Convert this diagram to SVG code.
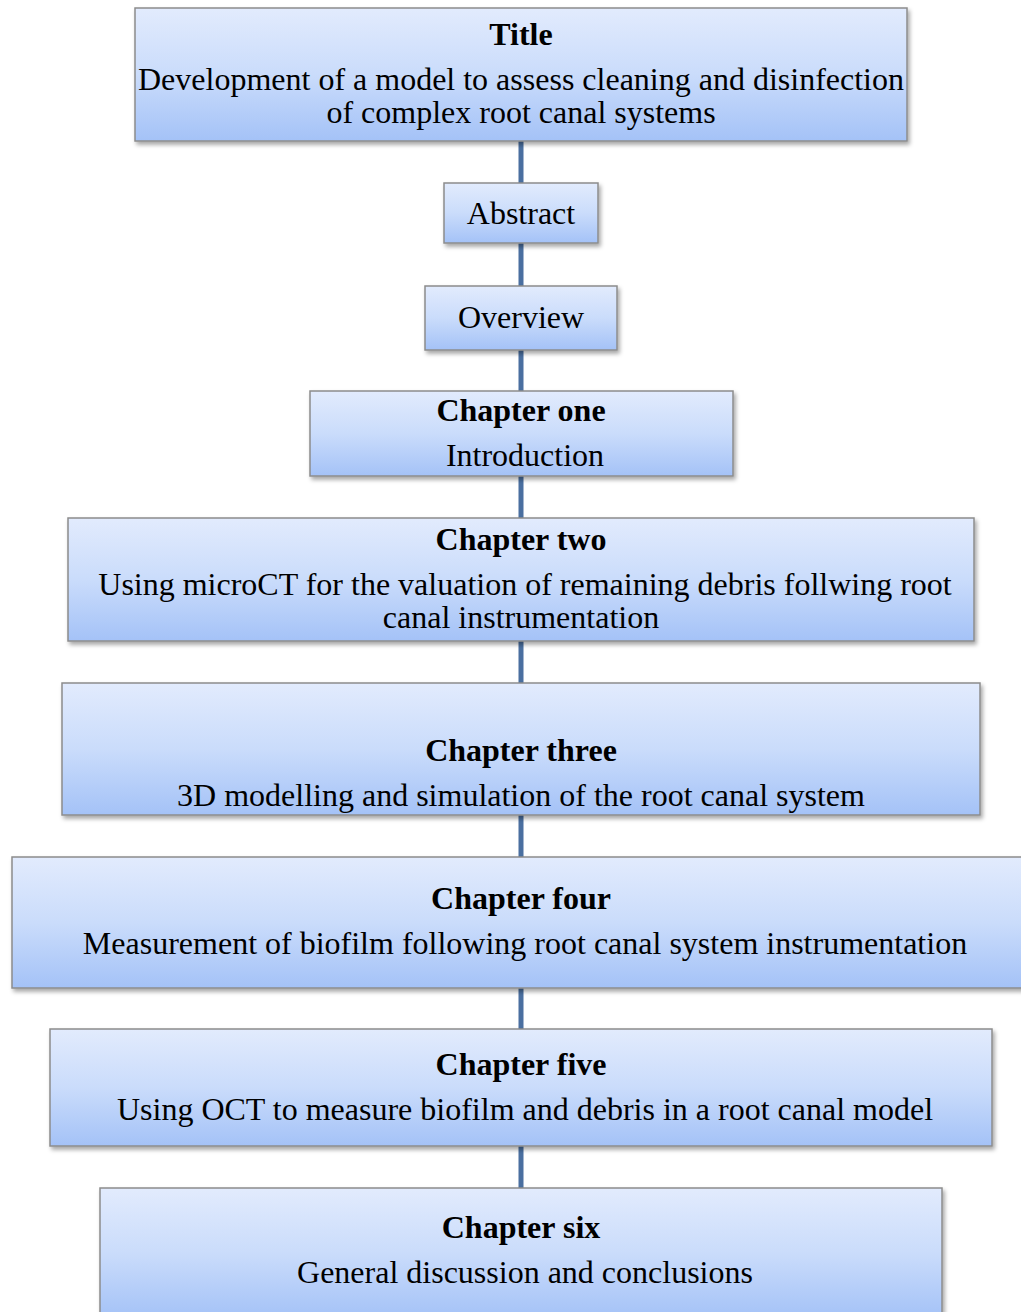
<svg xmlns="http://www.w3.org/2000/svg" width="1021" height="1312" viewBox="0 0 1021 1312">
<defs>
<linearGradient id="g" x1="0" y1="0" x2="0" y2="1">
<stop offset="0" stop-color="#e2ebfd"/>
<stop offset="0.5" stop-color="#cadcfb"/>
<stop offset="1" stop-color="#a4c2f7"/>
</linearGradient>
<filter id="sh" x="-5%" y="-10%" width="110%" height="130%">
<feDropShadow dx="2" dy="3" stdDeviation="2" flood-color="#000" flood-opacity="0.35"/>
</filter>
<style>
.box{fill:url(#g);stroke:#8c8c8c;stroke-width:1.5;filter:url(#sh)}
text{font-family:"Liberation Serif","Times New Roman",serif;font-size:32px;fill:#000;text-anchor:middle}
.b{font-weight:bold}
.con{stroke:#4a6fa0;stroke-width:5;fill:none}
</style>
</defs>
<rect width="1021" height="1312" fill="#fff"/>
<g id="connectors">
<line class="con" x1="521" y1="141" x2="521" y2="1188"/>
</g>
<g id="title">
<rect class="box" x="135" y="8" width="772" height="133"/>
<text class="b" x="521" y="45">Title</text>
<text x="521" y="90">Development of a model to assess cleaning and disinfection</text>
<text x="521" y="123">of complex root canal systems</text>
</g>
<g id="abstract">
<rect class="box" x="444" y="183" width="154" height="60"/>
<text x="521" y="224">Abstract</text>
</g>
<g id="overview">
<rect class="box" x="425" y="286" width="192" height="64"/>
<text x="521" y="328">Overview</text>
</g>
<g id="chapter-one">
<rect class="box" x="310" y="391" width="423" height="85"/>
<text class="b" x="521" y="421">Chapter one</text>
<text x="525" y="466">Introduction</text>
</g>
<g id="chapter-two">
<rect class="box" x="68" y="518" width="906" height="123"/>
<text class="b" x="521" y="550">Chapter two</text>
<text x="525" y="595">Using microCT for the valuation of remaining debris follwing root</text>
<text x="521" y="628">canal instrumentation</text>
</g>
<g id="chapter-three">
<rect class="box" x="62" y="683" width="918" height="132"/>
<text class="b" x="521" y="761">Chapter three</text>
<text x="521" y="806">3D modelling and simulation of the root canal system</text>
</g>
<g id="chapter-four">
<rect class="box" x="12" y="857" width="1015" height="131"/>
<text class="b" x="521" y="909">Chapter four</text>
<text x="525" y="954">Measurement of biofilm following root canal system instrumentation</text>
</g>
<g id="chapter-five">
<rect class="box" x="50" y="1029" width="942" height="117"/>
<text class="b" x="521" y="1075">Chapter five</text>
<text x="525" y="1120">Using OCT to measure biofilm and debris in a root canal model</text>
</g>
<g id="chapter-six">
<rect class="box" x="100" y="1188" width="842" height="130"/>
<text class="b" x="521" y="1238">Chapter six</text>
<text x="525" y="1283">General discussion and conclusions</text>
</g>
</svg>
